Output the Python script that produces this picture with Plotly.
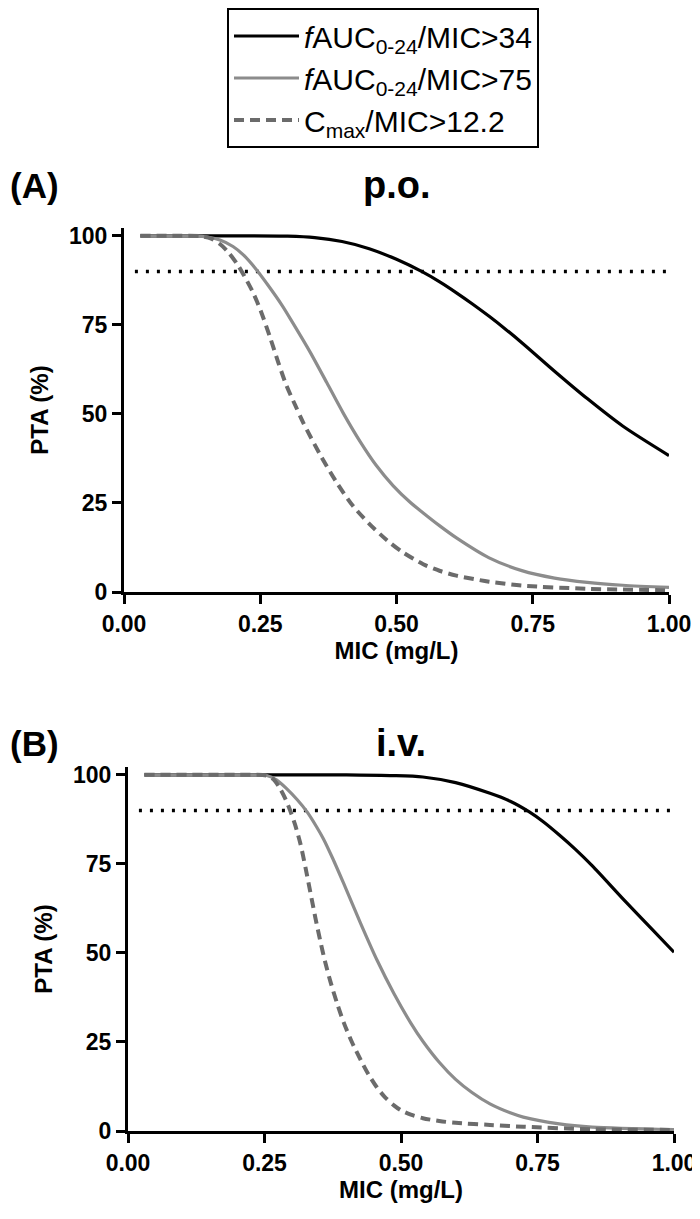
import plotly.graph_objects as go
from plotly.subplots import make_subplots

# ---------------- data ----------------
series_names = ["<i>f</i>AUC<sub>0-24</sub>/MIC>34",
                "<i>f</i>AUC<sub>0-24</sub>/MIC>75",
                "C<sub>max</sub>/MIC>12.2"]
target_pta = 90
target_mic = [0.02, 1.0]

# Panel A: p.o.
po_auc34_mic = [0.03, 0.10, 0.20, 0.30, 0.35, 0.40, 0.45, 0.50, 0.546, 0.58, 0.61, 0.64, 0.67, 0.70, 0.73, 0.79, 0.85, 0.915, 1.0]
po_auc34_pta = [100, 100, 100, 99.9, 99.5, 98.4, 96.4, 93.4, 90.0, 87.0, 84.0, 80.8, 77.4, 73.8, 70.0, 62.0, 54.3, 46.6, 38.3]

po_auc75_mic = [0.03, 0.10, 0.13, 0.155, 0.176, 0.20, 0.22, 0.243, 0.265, 0.29, 0.31, 0.341, 0.372, 0.402, 0.433, 0.463, 0.494, 0.525, 0.549, 0.58, 0.61, 0.67, 0.73, 0.79, 0.85, 0.915, 1.0]
po_auc75_pta = [100, 100, 100, 99.6, 98.8, 97.0, 94.5, 90.5, 86.0, 80.5, 75.5, 67.5, 58.8, 50.3, 42.3, 35.5, 29.8, 25.2, 22.2, 18.5, 15.2, 9.6, 6.0, 3.9, 2.7, 1.9, 1.3]

po_cmax_mic = [0.03, 0.10, 0.14, 0.16, 0.176, 0.192, 0.207, 0.216, 0.237, 0.252, 0.268, 0.283, 0.298, 0.314, 0.329, 0.359, 0.39, 0.42, 0.451, 0.482, 0.51, 0.549, 0.58, 0.61, 0.67, 0.73, 0.85, 1.0]
po_cmax_pta = [100, 100, 99.9, 99.2, 97.7, 95.3, 92.2, 90.0, 84.0, 78.5, 71.5, 64.5, 58.0, 52.5, 47.5, 38.8, 30.8, 24.2, 19.0, 14.6, 11.3, 7.8, 5.9, 4.6, 2.9, 1.8, 0.9, 0.5]

# Panel B: i.v.
iv_auc34_mic = [0.03, 0.20, 0.40, 0.48, 0.54, 0.60, 0.663, 0.70, 0.735, 0.76, 0.79, 0.82, 0.85, 0.91, 0.96, 1.0]
iv_auc34_pta = [100, 100, 100, 99.8, 99.4, 97.8, 94.8, 92.6, 89.6, 86.9, 83.1, 79.0, 74.5, 64.6, 56.6, 50.2]

iv_auc75_mic = [0.03, 0.20, 0.254, 0.272, 0.29, 0.31, 0.328, 0.345, 0.358, 0.375, 0.395, 0.426, 0.456, 0.487, 0.518, 0.54, 0.57, 0.60, 0.63, 0.663, 0.70, 0.724, 0.79, 0.85, 1.0]
iv_auc75_pta = [100, 100, 99.8, 98.6, 96.2, 93.0, 89.6, 85.5, 82.0, 76.5, 69.5, 58.3, 48.0, 38.6, 30.3, 25.2, 19.3, 14.5, 10.8, 7.6, 5.1, 3.9, 2.0, 1.1, 0.4]

iv_cmax_mic = [0.03, 0.20, 0.254, 0.266, 0.279, 0.289, 0.297, 0.306, 0.316, 0.325, 0.334, 0.343, 0.352, 0.361, 0.371, 0.383, 0.395, 0.41, 0.426, 0.44, 0.456, 0.47, 0.487, 0.50, 0.518, 0.54, 0.57, 0.60, 0.663, 0.724, 0.85, 1.0]
iv_cmax_pta = [100, 100, 99.8, 98.8, 96.0, 93.0, 90.0, 86.0, 80.5, 74.0, 67.0, 60.0, 53.5, 47.5, 41.8, 35.8, 30.5, 25.0, 20.0, 16.0, 12.2, 9.6, 7.2, 5.8, 4.6, 3.6, 2.8, 2.3, 1.7, 1.2, 0.5, 0.3]

x_ticks = [0, 0.25, 0.5, 0.75, 1.0]
x_ticktext = ["0.00", "0.25", "0.50", "0.75", "1.00"]
y_ticks = [0, 25, 50, 75, 100]
y_ticktext = ["0", "25", "50", "75", "100"]

panel_letters = ["(A)", "(B)"]
panel_titles = ["p.o.", "i.v."]

# ---------------- styling ----------------
# the page body has an 8px default margin; the figure is sized to fit the window
OFF = 8
W, H = 700 - OFF, 1219 - OFF


def px_x(p):
    return (p - OFF) / W


def px_y(p):
    return 1 - (p - OFF) / H


BLACK = "#000000"
GRAY = "#8c8c8c"
DGRAY = "#6b6b6b"
REG = "Liberation Sans, Arial, Helvetica"

styles = [dict(color=BLACK, width=3.2, dash="solid"),
          dict(color=GRAY, width=3.2, dash="solid"),
          dict(color=DGRAY, width=4, dash="10px,6px")]

fig = make_subplots(rows=2, cols=1)

panels = [
    [(po_auc34_mic, po_auc34_pta), (po_auc75_mic, po_auc75_pta), (po_cmax_mic, po_cmax_pta)],
    [(iv_auc34_mic, iv_auc34_pta), (iv_auc75_mic, iv_auc75_pta), (iv_cmax_mic, iv_cmax_pta)],
]

for r, panel in enumerate(panels, start=1):
    fig.add_trace(go.Scatter(x=target_mic, y=[target_pta] * 2, mode="lines",
                             line=dict(color=BLACK, width=3.5, dash="3px,8px"),
                             showlegend=False, hoverinfo="skip"), row=r, col=1)
    for i, (mx, py) in enumerate(panel):
        fig.add_trace(go.Scatter(x=mx, y=py, mode="lines", name=series_names[i],
                                 line=dict(shape="spline", smoothing=0.8, **styles[i]),
                                 showlegend=(r == 1), legendrank=i + 1), row=r, col=1)

axis_common = dict(showline=True, linewidth=3, linecolor=BLACK, ticks="outside",
                   ticklen=9, tickwidth=3, tickcolor=BLACK, showgrid=False, zeroline=False,
                   automargin=False,
                   tickfont=dict(family=REG, size=23, color=BLACK, weight="bold"))

fig.update_xaxes(range=[0, 1.0], tickvals=x_ticks, ticktext=x_ticktext,
                 title=dict(text="MIC (mg/L)", font=dict(family=REG, size=24, color=BLACK, weight="bold"), standoff=6),
                 **axis_common)
fig.update_yaxes(range=[0, 102.2], tickvals=y_ticks, ticktext=y_ticktext,
                 title=dict(text="PTA (%)", font=dict(family=REG, size=24, color=BLACK, weight="bold"), standoff=14),
                 **axis_common)

fig.update_layout(
    xaxis=dict(domain=[px_x(124), px_x(669)]),
    yaxis=dict(domain=[px_y(592), px_y(228)]),
    xaxis2=dict(domain=[px_x(128), px_x(674)]),
    yaxis2=dict(domain=[px_y(1131), px_y(767)]),
    width=W, height=H,
    margin=dict(l=0, r=0, t=0, b=0, autoexpand=False),
    paper_bgcolor="white", plot_bgcolor="white",
    showlegend=True,
    legend=dict(x=px_x(383), y=1, xanchor="center", yanchor="top",
                bordercolor=BLACK, borderwidth=2, bgcolor="white",
                font=dict(family=REG, size=30, color=BLACK),
                itemwidth=65, tracegroupgap=0),
)

title_y = [185, 743]
for k in range(2):
    xd = fig.layout["xaxis" if k == 0 else "xaxis2"].domain
    fig.add_annotation(x=0.0, y=px_y(title_y[k]), xref="paper", yref="paper",
                       xanchor="left", yanchor="middle", showarrow=False,
                       text=panel_letters[k], font=dict(family=REG, size=35, color=BLACK, weight="bold"))
    fig.add_annotation(x=(xd[0] + xd[1]) / 2, y=px_y(title_y[k]), xref="paper", yref="paper",
                       xanchor="center", yanchor="middle", showarrow=False,
                       text=panel_titles[k], font=dict(family=REG, size=38, color=BLACK, weight="bold"))

fig.write_html("out.html")
